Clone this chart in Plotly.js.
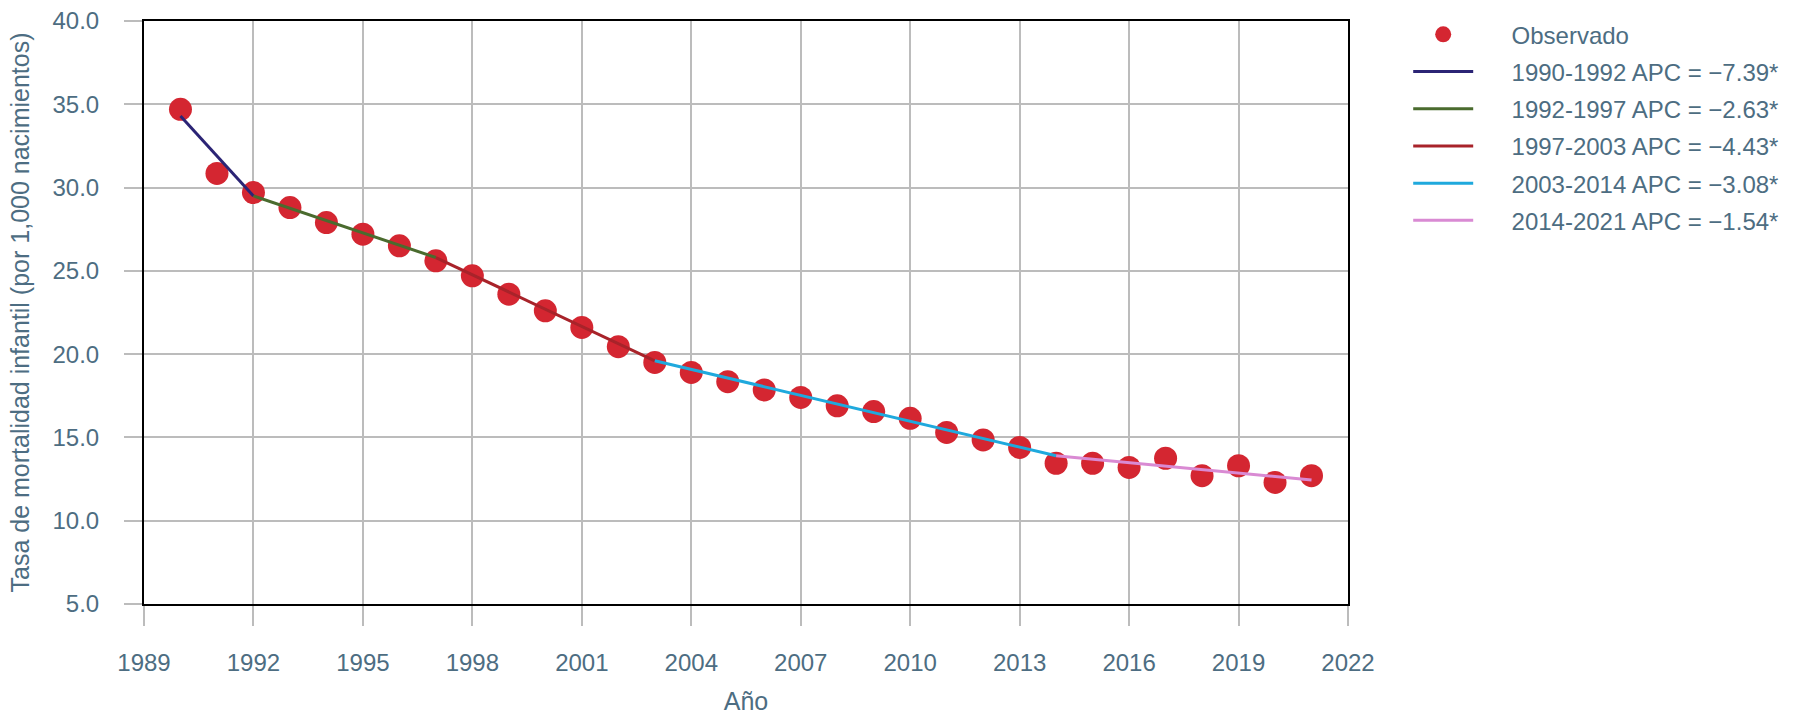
<!DOCTYPE html>
<html>
<head>
<meta charset="utf-8">
<script src="https://cdn.plot.ly/plotly-3.0.1.min.js"></script>
<style>html,body{margin:0;padding:0;background:#fff;}#chart{width:1800px;height:727px;}</style>
</head>
<body>
<div id="chart"></div>
<script>
// Observed infant mortality rate
const years = [1990,1991,1992,1993,1994,1995,1996,1997,1998,1999,2000,2001,2002,2003,2004,2005,2006,2007,2008,2009,2010,2011,2012,2013,2014,2015,2016,2017,2018,2019,2020,2021];
const observed = [34.7,30.85,29.7,28.8,27.9,27.2,26.5,25.6,24.7,23.6,22.6,21.6,20.45,19.5,18.9,18.35,17.85,17.4,16.9,16.55,16.15,15.3,14.85,14.4,13.45,13.45,13.2,13.75,12.7,13.3,12.3,12.7];

// Joinpoint segments (fitted values at segment ends)
const segNames = ["1990-1992 APC = \u22127.39*","1992-1997 APC = \u22122.63*","1997-2003 APC = \u22124.43*","2003-2014 APC = \u22123.08*","2014-2021 APC = \u22121.54*"];
const segYears = [[1990,1992],[1992,1997],[1997,2003],[2003,2014],[2014,2021]];
const segValues = [[34.3,29.5],[29.5,25.8],[25.8,19.6],[19.6,13.9],[13.9,12.45]];
const segColors = ["#2b2475","#4a6b2e","#a8232a","#1fa9dd","#d98ad3"];

const xTicks = [1989,1992,1995,1998,2001,2004,2007,2010,2013,2016,2019,2022];
const yTicks = [5,10,15,20,25,30,35,40];

const FONT = "'Liberation Sans', Arial, sans-serif";
const TXT = "#4d6d82";
const PAD = "\u00a0\u00a0\u00a0\u00a0\u00a0";

const traces = [{
  x: years, y: observed, type: "scatter", mode: "markers", name: PAD + "Observado",
  legendgroup: "obs",
  marker: {color: "#d42631", size: 23}
}];
segNames.forEach((n, i) => {
  traces.push({x: segYears[i], y: segValues[i], type: "scatter", mode: "lines", name: PAD + n,
    legendgroup: "s" + i,
    line: {color: segColors[i], width: 3}});
});

const layout = {
  width: 1800, height: 727,
  margin: {l: 144, r: 452, t: 21, b: 123},
  paper_bgcolor: "#fff", plot_bgcolor: "#fff",
  font: {family: FONT, size: 24, color: TXT},
  showlegend: true,
  legend: {x: 1.05, y: 1.015, xanchor: "left", yanchor: "top", font: {family: FONT, size: 24, color: TXT},
           bgcolor: "rgba(0,0,0,0)", itemwidth: 60, tracegroupgap: 3},
  xaxis: {
    range: [1989, 2022], tickvals: xTicks, ticktext: xTicks.map(String),
    showgrid: true, gridcolor: "#bcbcbc", gridwidth: 2,
    showline: true, linecolor: "#000", linewidth: 2, mirror: true,
    ticks: "outside", ticklen: 20, tickwidth: 2, tickcolor: "#bcbcbc",
    zeroline: false, ticklabelstandoff: 16,
    tickfont: {family: FONT, size: 24, color: TXT},
    title: {text: "Año", font: {family: FONT, size: 25, color: TXT}, standoff: 18}
  },
  yaxis: {
    range: [5, 40], tickvals: yTicks, ticktext: yTicks.map(v => v.toFixed(1)),
    showgrid: true, gridcolor: "#bcbcbc", gridwidth: 2,
    showline: true, linecolor: "#000", linewidth: 2, mirror: true,
    ticks: "outside", ticklen: 18, tickwidth: 2, tickcolor: "#bcbcbc",
    zeroline: false, ticklabelstandoff: 20,
    tickfont: {family: FONT, size: 24, color: TXT},
    title: {text: "Tasa de mortalidad infantil (por 1,000 nacimientos)", font: {family: FONT, size: 25, color: TXT}, standoff: 16}
  }
};

Plotly.newPlot("chart", traces, layout, {displayModeBar: false, staticPlot: true});
</script>
</body>
</html>
